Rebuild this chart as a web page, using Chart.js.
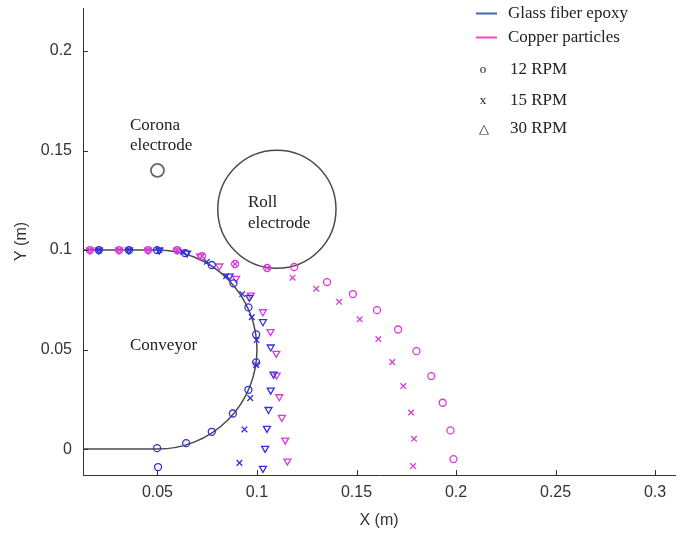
<!DOCTYPE html>
<html>
<head>
<meta charset="utf-8">
<script src="https://cdn.jsdelivr.net/npm/chart.js@4.4.1/dist/chart.umd.min.js"></script>
<style>
    html, body { margin: 0; padding: 0; background: #fff; }
    #wrap { width: 682px; height: 533px; }
</style>
</head>
<body>
<div id="wrap"><canvas id="trajectories"></canvas></div>
<script>
// particle positions, in metres
var glass12X = [0.0206, 0.0357, 0.0498, 0.0639, 0.0773, 0.0882, 0.0957, 0.0996, 0.0996, 0.0957, 0.0879, 0.0773, 0.0644, 0.0498, 0.0503];
var glass12Y = [0.1, 0.1, 0.1, 0.0985, 0.0925, 0.0833, 0.0712, 0.0576, 0.0436, 0.0298, 0.0179, 0.0087, 0.0030, 0.0005, -0.0090];

var glass15X = [0.0206, 0.0357, 0.0510, 0.0629, 0.0748, 0.0845, 0.0926, 0.0974, 0.0998, 0.0996, 0.0966, 0.0937, 0.0912];
var glass15Y = [0.1, 0.1, 0.1, 0.0990, 0.0941, 0.0869, 0.0779, 0.0663, 0.0548, 0.0422, 0.0256, 0.0099, -0.0069];

var glass30X = [0.0206, 0.0357, 0.0510, 0.0649, 0.0862, 0.0962, 0.1030, 0.1069, 0.1083, 0.1069, 0.1058, 0.1050, 0.1041, 0.1030];
var glass30Y = [0.1, 0.1, 0.1, 0.0985, 0.0869, 0.0762, 0.0640, 0.0513, 0.0377, 0.0296, 0.0199, 0.0104, 0.0004, -0.0097];

var copper12X = [0.0161, 0.0307, 0.0453, 0.0599, 0.0724, 0.0890, 0.1051, 0.1187, 0.1352, 0.1482, 0.1603, 0.1709, 0.1801, 0.1876, 0.1933, 0.1972, 0.1987];
var copper12Y = [0.1, 0.1, 0.1, 0.1, 0.0970, 0.0930, 0.0910, 0.0915, 0.0839, 0.0779, 0.0698, 0.0601, 0.0492, 0.0367, 0.0233, 0.0094, -0.0050];

var copper15X = [0.0161, 0.0307, 0.0453, 0.0599, 0.0724, 0.0890, 0.1051, 0.1179, 0.1298, 0.1413, 0.1516, 0.1610, 0.1680, 0.1735, 0.1774, 0.1789, 0.1784];
var copper15Y = [0.1, 0.1, 0.1, 0.1, 0.0970, 0.0930, 0.0910, 0.0861, 0.0806, 0.0740, 0.0652, 0.0553, 0.0437, 0.0317, 0.0184, 0.0052, -0.0085];

var copper30X = [0.0161, 0.0307, 0.0453, 0.0599, 0.0714, 0.0811, 0.0895, 0.0969, 0.1030, 0.1068, 0.1097, 0.1099, 0.1112, 0.1125, 0.1142, 0.1153];
var copper30Y = [0.1, 0.1, 0.1, 0.1, 0.0970, 0.0920, 0.0858, 0.0774, 0.0690, 0.0590, 0.0481, 0.0372, 0.0263, 0.0159, 0.0045, -0.0060];

// machine geometry (metres)
var conveyorCenter = [0.05, 0.05];
var conveyorRadius = 0.05;
var rollCenter = [0.11, 0.1205];
var rollRadius = 0.0297;
var coronaCenter = [0.05, 0.140];
var coronaRadius = 0.003;

var xTicks = [0.05, 0.1, 0.15, 0.2, 0.25, 0.3];
var xTickLabels = ['0.05', '0.1', '0.15', '0.2', '0.25', '0.3'];
var yTicks = [0, 0.05, 0.1, 0.15, 0.2];
var yTickLabels = ['0', '0.05', '0.1', '0.15', '0.2'];

var materials = ['Glass fiber epoxy', 'Copper particles'];
var speeds = ['12 RPM', '15 RPM', '30 RPM'];

var blue = '#2f2fdc';
var magenta = '#d83ad8';

function toPoints(xs, ys) {
    return xs.map(function (v, i) { return { x: v, y: ys[i] }; });
}

function series(xs, ys, color, style) {
    var ds = {
        data: toPoints(xs, ys),
        borderColor: color,
        backgroundColor: 'rgba(0,0,0,0)',
        pointBorderWidth: 1.3,
        pointRadius: 3.5,
        pointStyle: style,
        showLine: false
    };
    if (style == 'triangle') {
        ds.pointRotation = 180;
        ds.pointRadius = 4;
    }
    if (style == 'crossRot') {
        ds.pointRadius = 4;
    }
    return ds;
}

// shapes, labels, legend and inward ticks
var sketch = {
    id: 'sketch',
    beforeDatasetsDraw: function (chart) {
        var ctx = chart.ctx, sx = chart.scales.x, sy = chart.scales.y, area = chart.chartArea;
        var unit = sx.getPixelForValue(1) - sx.getPixelForValue(0);
        ctx.save();
        ctx.strokeStyle = '#4a4a4a';
        ctx.lineWidth = 1.5;

        // conveyor
        var cx = sx.getPixelForValue(conveyorCenter[0]), cy = sy.getPixelForValue(conveyorCenter[1]);
        ctx.beginPath();
        ctx.moveTo(area.left, sy.getPixelForValue(conveyorCenter[1] + conveyorRadius));
        ctx.lineTo(cx, sy.getPixelForValue(conveyorCenter[1] + conveyorRadius));
        ctx.arc(cx, cy, conveyorRadius * unit, -Math.PI / 2, Math.PI / 2);
        ctx.lineTo(area.left, sy.getPixelForValue(conveyorCenter[1] - conveyorRadius));
        ctx.stroke();

        // roll electrode
        ctx.beginPath();
        ctx.arc(sx.getPixelForValue(rollCenter[0]), sy.getPixelForValue(rollCenter[1]), rollRadius * unit, 0, Math.PI * 2);
        ctx.stroke();

        // corona electrode
        ctx.strokeStyle = '#666';
        ctx.lineWidth = 1.8;
        ctx.beginPath();
        ctx.arc(sx.getPixelForValue(coronaCenter[0]), sy.getPixelForValue(coronaCenter[1]), coronaRadius * unit + 0.5, 0, Math.PI * 2);
        ctx.stroke();

        ctx.fillStyle = '#222';
        ctx.font = '17px "Liberation Serif", "Times New Roman", serif';
        ctx.textBaseline = 'alphabetic';
        ctx.fillText('Corona', 130, 130);
        ctx.fillText('electrode', 130, 150);
        ctx.fillText('Roll', 248, 207);
        ctx.fillText('electrode', 248, 228);
        ctx.fillText('Conveyor', 130, 350);
        ctx.restore();
    },
    afterDraw: function (chart) {
        var ctx = chart.ctx, sx = chart.scales.x, sy = chart.scales.y, area = chart.chartArea;
        ctx.save();
        ctx.strokeStyle = '#333';
        ctx.lineWidth = 1;
        xTicks.forEach(function (v) {
            var p = Math.round(sx.getPixelForValue(v)) + 0.5;
            ctx.beginPath();
            ctx.moveTo(p, area.bottom);
            ctx.lineTo(p, area.bottom - 5);
            ctx.stroke();
        });
        yTicks.forEach(function (v) {
            var p = Math.round(sy.getPixelForValue(v)) + 0.5;
            ctx.beginPath();
            ctx.moveTo(area.left, p);
            ctx.lineTo(area.left + 5, p);
            ctx.stroke();
        });

        // legend
        var lx = area.right - 199;
        ctx.lineWidth = 2;
        ctx.strokeStyle = '#4466aa';
        ctx.beginPath();
        ctx.moveTo(lx, 13.5);
        ctx.lineTo(lx + 21, 13.5);
        ctx.stroke();
        ctx.strokeStyle = '#ff40c8';
        ctx.beginPath();
        ctx.moveTo(lx, 37.5);
        ctx.lineTo(lx + 21, 37.5);
        ctx.stroke();

        ctx.fillStyle = '#222';
        ctx.font = '17px "Liberation Serif", "Times New Roman", serif';
        ctx.textBaseline = 'alphabetic';
        ctx.fillText(materials[0], lx + 32, 18);
        ctx.fillText(materials[1], lx + 32, 42);
        ctx.fillText(speeds[0], lx + 34, 74);
        ctx.fillText(speeds[1], lx + 34, 105);
        ctx.fillText(speeds[2], lx + 34, 133);
        ctx.font = '13px "Liberation Serif", "Times New Roman", serif';
        ctx.textAlign = 'center';
        ctx.fillText('o', lx + 7, 73);
        ctx.fillText('x', lx + 7, 104);
        ctx.fillText('\u25b3', lx + 8, 133);
        ctx.restore();
    }
};

new Chart(document.getElementById('trajectories'), {
    type: 'scatter',
    data: {
        datasets: [
            series(glass12X, glass12Y, blue, 'circle'),
            series(glass15X, glass15Y, blue, 'crossRot'),
            series(glass30X, glass30Y, blue, 'triangle'),
            series(copper12X, copper12Y, magenta, 'circle'),
            series(copper15X, copper15Y, magenta, 'crossRot'),
            series(copper30X, copper30Y, magenta, 'triangle')
        ]
    },
    options: {
        responsive: true,
        maintainAspectRatio: false,
        animation: false,
        layout: { padding: { left: 0, top: 8, right: 7, bottom: 0 } },
        plugins: {
            legend: { display: false },
            tooltip: { enabled: false }
        },
        scales: {
            x: {
                type: 'linear',
                min: 0.0126,
                max: 0.31,
                afterBuildTicks: function (s) { s.ticks = xTicks.map(function (v) { return { value: v }; }); },
                afterFit: function (s) {
                    s.height = 58;
                    s.paddingLeft = 0;
                    s.paddingRight = 0;
                },
                ticks: {
                    padding: 8,
                    color: '#333',
                    font: { family: '"Liberation Sans", Arial, sans-serif', size: 16 },
                    callback: function (v, i) { return xTickLabels[i]; }
                },
                grid: { drawOnChartArea: false, drawTicks: false },
                border: { display: true, color: '#333', width: 1 },
                title: {
                    display: true,
                    text: 'X (m)',
                    color: '#333',
                    font: { family: '"Liberation Sans", Arial, sans-serif', size: 16 },
                    padding: { top: 0, bottom: 3 }
                }
            },
            y: {
                type: 'linear',
                min: -0.013,
                max: 0.2216,
                afterBuildTicks: function (s) { s.ticks = yTicks.map(function (v) { return { value: v }; }); },
                afterFit: function (s) {
                    s.width = 83;
                    s.paddingTop = 0;
                    s.paddingBottom = 0;
                },
                ticks: {
                    padding: 11,
                    color: '#333',
                    font: { family: '"Liberation Sans", Arial, sans-serif', size: 16 },
                    callback: function (v, i) { return yTickLabels[i]; }
                },
                grid: { drawOnChartArea: false, drawTicks: false },
                border: { display: true, color: '#333', width: 1 },
                title: {
                    display: true,
                    text: 'Y (m)',
                    color: '#333',
                    font: { family: '"Liberation Sans", Arial, sans-serif', size: 16 },
                    padding: { top: 12, bottom: 0 }
                }
            }
        }
    },
    plugins: [sketch]
});
</script>
</body>
</html>
